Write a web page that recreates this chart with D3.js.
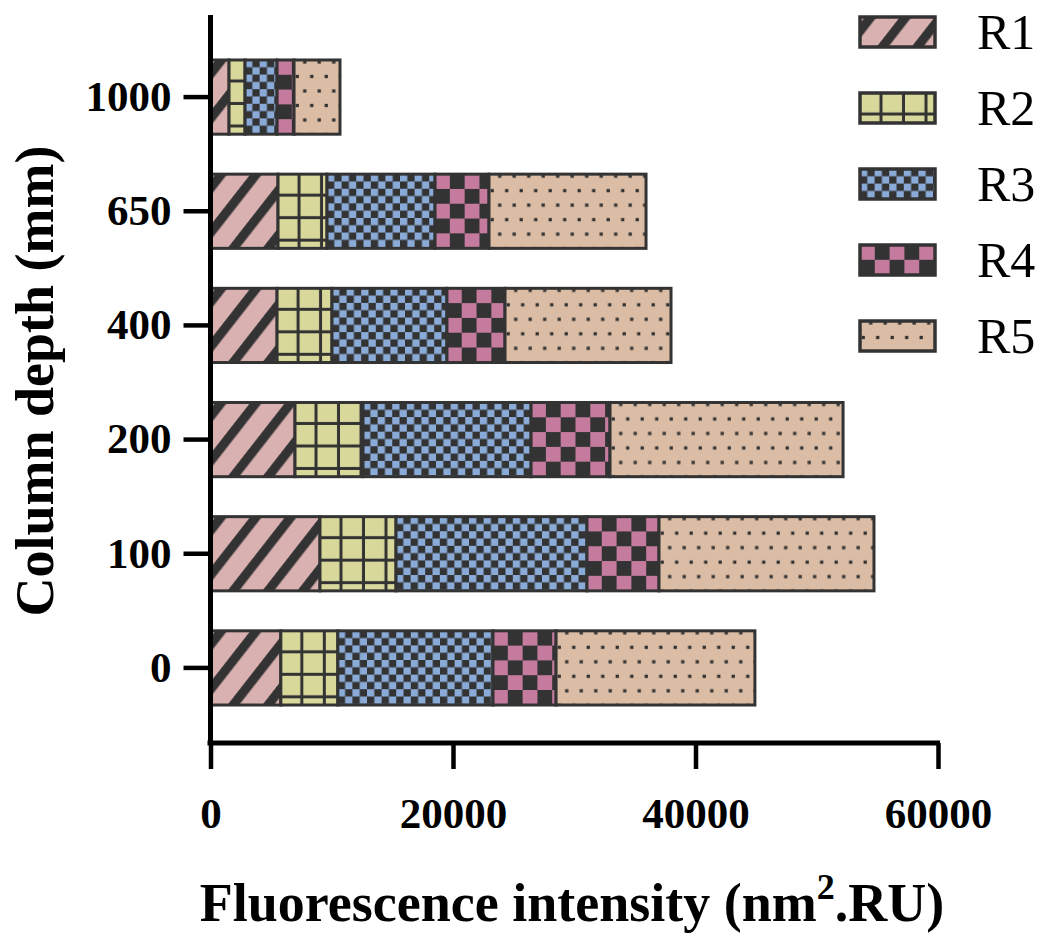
<!DOCTYPE html>
<html>
<head>
<meta charset="utf-8">
<script src="https://cdn.jsdelivr.net/npm/d3@7"></script>
<style>
  html, body { margin: 0; padding: 0; background: #fff; }
  svg { display: block; }
  text { font-family: "Liberation Serif", "Times New Roman", serif; fill: #000; }
</style>
</head>
<body>
<svg id="chart" width="1047" height="933"></svg>
<script>
// Column depths (mm), bottom to top
const depths = ["0", "100", "200", "400", "650", "1000"];
// Series names
const seriesNames = ["R1", "R2", "R3", "R4", "R5"];
// Fluorescence intensity per series, one value per depth (same order as depths)
const R1 = [5800, 9030, 6970, 5490, 5570, 1530];
const R2 = [4700, 6270, 5610, 4530, 4040, 1320];
const R3 = [12800, 15750, 13860, 9480, 8910, 2640];
const R4 = [5200, 5940, 6510, 4790, 4450, 1400];
const R5 = [16400, 17730, 19220, 13690, 12950, 3790];
// Axis ticks
const xTicks = [0, 20000, 40000, 60000];

const seriesValues = [R1, R2, R3, R4, R5];
const dark = "#333333";
const fills = {
  R1: "#d9b1b0",
  R2: "#d8d89b",
  R3: "#8aaad7",
  R4: "#c47b9e",
  R5: "#dbbda5"
};

const svg = d3.select("#chart");
const defs = svg.append("defs");

const x = d3.scaleLinear().domain([0, 60000]).range([210.5, 938]);
const y = d3.scaleBand().domain(depths).range([725, 40]).paddingInner(0.35).paddingOuter(0.175);

// Fill patterns, anchored at the top-left corner of the shape they fill
function makePattern(id, name, ox, oy) {
  const p = defs.append("pattern").attr("id", id).attr("patternUnits", "userSpaceOnUse");
  if (name === "R1") {
    const w = 27.5;
    p.attr("width", w).attr("height", w)
      .attr("patternTransform", `translate(${ox},${oy}) rotate(38)`);
    p.append("rect").attr("width", w).attr("height", w).attr("fill", fills.R1);
    p.append("rect").attr("x", 4).attr("width", 9.2).attr("height", w).attr("fill", dark);
  } else if (name === "R2") {
    const w = 22.5;
    p.attr("width", w).attr("height", w).attr("patternTransform", `translate(${ox},${oy})`);
    p.append("rect").attr("width", w).attr("height", w).attr("fill", fills.R2);
    p.append("rect").attr("x", 19.5).attr("width", 3).attr("height", w).attr("fill", dark);
    p.append("rect").attr("y", 19.5).attr("width", w).attr("height", 3).attr("fill", dark);
  } else if (name === "R3") {
    const s = 7.3;
    p.attr("width", 2 * s).attr("height", 2 * s).attr("patternTransform", `translate(${ox},${oy})`);
    p.append("rect").attr("width", 2 * s).attr("height", 2 * s).attr("fill", dark);
    p.append("rect").attr("width", s).attr("height", s).attr("fill", fills.R3);
    p.append("rect").attr("x", s).attr("y", s).attr("width", s).attr("height", s).attr("fill", fills.R3);
  } else if (name === "R4") {
    const s = 14.8;
    p.attr("width", 2 * s).attr("height", 2 * s).attr("patternTransform", `translate(${ox},${oy})`);
    p.append("rect").attr("width", 2 * s).attr("height", 2 * s).attr("fill", dark);
    p.append("rect").attr("width", s).attr("height", s).attr("fill", fills.R4);
    p.append("rect").attr("x", s).attr("y", s).attr("width", s).attr("height", s).attr("fill", fills.R4);
  } else {
    const w = 14.5, h = 29, d = 3.3;
    p.attr("width", w).attr("height", h).attr("patternTransform", `translate(${ox},${oy})`);
    p.append("rect").attr("width", w).attr("height", h).attr("fill", fills.R5);
    p.append("rect").attr("x", 10.7 - d / 2).attr("y", 2 - d / 2).attr("width", d).attr("height", d).attr("fill", dark);
    p.append("rect").attr("x", 3.2 - d / 2).attr("y", 16.5 - d / 2).attr("width", d).attr("height", d).attr("fill", dark);
  }
}

// Stacked segments
const segments = [];
depths.forEach((dep, i) => {
  let acc = 0;
  seriesNames.forEach((name, s) => {
    const v = seriesValues[s][i];
    segments.push({ depth: dep, name, x0: acc, x1: acc + v });
    acc += v;
  });
});

segments.forEach((d, k) => {
  d.id = `pat-${k}`;
  makePattern(d.id, d.name, x(d.x0), y(d.depth));
});

svg.append("g").selectAll("rect")
  .data(segments)
  .join("rect")
  .attr("x", d => x(d.x0))
  .attr("y", d => y(d.depth))
  .attr("width", d => x(d.x1) - x(d.x0))
  .attr("height", y.bandwidth())
  .attr("fill", d => `url(#${d.id})`)
  .attr("stroke", dark)
  .attr("stroke-width", 3);

// Axes
const axisW = 5;
const xAxis = svg.append("g").attr("transform", "translate(0,743)")
  .call(d3.axisBottom(x).tickValues(xTicks).tickSize(26).tickPadding(28).tickFormat(d3.format("d")));
xAxis.select(".domain").attr("d", `M${x(0) - 3},0H${x(60000) + 2}`).attr("stroke", "#000").attr("stroke-width", axisW);
xAxis.selectAll(".tick line").attr("stroke", "#000").attr("stroke-width", 4.5);
xAxis.selectAll(".tick text")
  .attr("font-family", "Liberation Serif, serif")
  .attr("font-weight", "bold")
  .attr("font-size", 43)
  .attr("fill", "#000");

const yAxis = svg.append("g").attr("transform", `translate(${x(0)},0)`)
  .call(d3.axisLeft(y).tickSize(27).tickPadding(12));
yAxis.select(".domain").attr("d", `M0,15V${743 + 2}`).attr("stroke", "#000").attr("stroke-width", axisW);
yAxis.selectAll(".tick line").attr("stroke", "#000").attr("stroke-width", 4.5);
yAxis.selectAll(".tick text")
  .attr("font-family", "Liberation Serif, serif")
  .attr("font-weight", "bold")
  .attr("font-size", 43)
  .attr("fill", "#000");

// Axis titles
const xt = svg.append("text")
  .attr("x", 572).attr("y", 921)
  .attr("text-anchor", "middle")
  .attr("font-weight", "bold")
  .attr("font-size", 54);
xt.append("tspan").text("Fluorescence intensity (nm");
xt.append("tspan").attr("dy", -22).attr("font-size", 36).text("2");
xt.append("tspan").attr("dy", 22).text(".RU)");

svg.append("text")
  .attr("transform", "translate(53,381) rotate(-90)")
  .attr("text-anchor", "middle")
  .attr("font-weight", "bold")
  .attr("font-size", 54)
  .text("Column depth (mm)");

// Legend
const legend = svg.append("g");
seriesNames.forEach((name, i) => {
  const top = 17 + 76 * i;
  const id = `leg-${name}`;
  makePattern(id, name, 860, top);
  legend.append("rect")
    .attr("x", 860).attr("y", top).attr("width", 75).attr("height", 30)
    .attr("fill", `url(#${id})`).attr("stroke", dark).attr("stroke-width", 3.5);
  legend.append("text")
    .attr("x", 977).attr("y", top + 32)
    .attr("font-size", 50)
    .text(name);
});
</script>
</body>
</html>
